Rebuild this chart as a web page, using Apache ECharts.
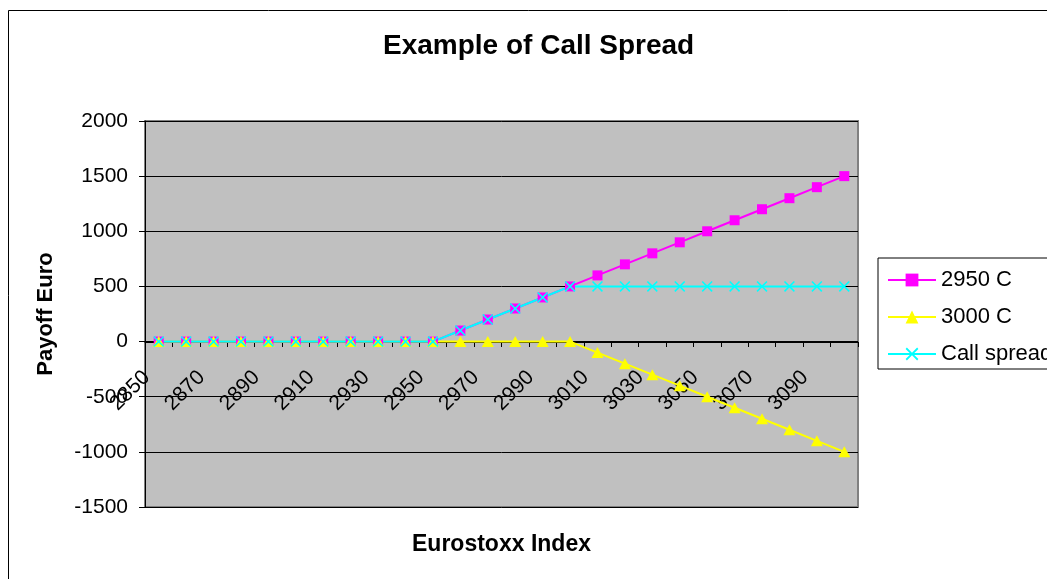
<!DOCTYPE html>
<html>
<head>
<meta charset="utf-8">
<style>
  html, body { margin: 0; padding: 0; background: #fff; }
  #chart { width: 1047px; height: 579px; }
</style>
<script src="https://cdn.jsdelivr.net/npm/echarts@6/dist/echarts.min.js"></script>
</head>
<body>
<div id="chart"></div>
<script>
const categories = ['2850','2860','2870','2880','2890','2900','2910','2920','2930','2940','2950','2960','2970','2980','2990','3000','3010','3020','3030','3040','3050','3060','3070','3080','3090','3100'];
const call2950 = [0,0,0,0,0,0,0,0,0,0,0,100,200,300,400,500,600,700,800,900,1000,1100,1200,1300,1400,1500];
const call3000 = [0,0,0,0,0,0,0,0,0,0,0,0,0,0,0,0,-100,-200,-300,-400,-500,-600,-700,-800,-900,-1000];
const callSpread = [0,0,0,0,0,0,0,0,0,0,0,100,200,300,400,500,500,500,500,500,500,500,500,500,500,500];
const yTicks = { min: -1500, max: 2000, interval: 500 };
const seriesNames = ['2950 C', '3000 C', 'Call spread'];

const FONT = 'Liberation Sans, Arial, sans-serif';
const xSymbol = 'path://M1,0L5,4L9,0L10,1L6,5L10,9L9,10L5,6L1,10L0,9L4,5L0,1Z';

const chart = echarts.init(document.getElementById('chart'), null, { renderer: 'canvas' });
chart.setOption({
  animation: false,
  backgroundColor: '#ffffff',
  graphic: [{
    type: 'rect', silent: true, z: -10,
    shape: { x: 8.5, y: 10.5, width: 1200, height: 700 },
    style: { fill: 'none', stroke: '#000', lineWidth: 1 }
  }],
  title: {
    text: 'Example of Call Spread',
    left: 383, top: 32, padding: 0,
    textStyle: { fontFamily: FONT, fontSize: 28, fontWeight: 'bold', color: '#000' }
  },
  legend: {
    orient: 'vertical',
    left: 878, top: 258,
    padding: [11, 60, 4, 9],
    itemWidth: 48, itemHeight: 16, itemGap: 15,
    borderColor: '#000', borderWidth: 1,
    backgroundColor: '#fff',
    textStyle: { fontFamily: FONT, fontSize: 22, color: '#000' },
    data: seriesNames
  },
  grid: {
    left: 145, right: 189, top: 121, bottom: 72,
    show: true, backgroundColor: '#C0C0C0', borderColor: '#808080', borderWidth: 2,
    outerBoundsMode: 'none', containLabel: false
  },
  xAxis: {
    type: 'category',
    data: categories,
    boundaryGap: true,
    offset: -165,
    name: 'Eurostoxx Index',
    nameLocation: 'middle',
    nameGap: 191,
    nameTextStyle: { fontFamily: FONT, fontSize: 23, fontWeight: 'bold', color: '#000' },
    axisLine: { onZero: false, lineStyle: { color: '#000', width: 1 } },
    axisTick: { show: true, interval: 0, length: 5, inside: false, lineStyle: { color: '#000' } },
    axisLabel: {
      interval: 1, rotate: 45, margin: 20, padding: [0, 17, 0, 0],
      fontFamily: FONT, fontSize: 21, color: '#000'
    },
    splitLine: { show: false }
  },
  yAxis: {
    type: 'value',
    min: yTicks.min, max: yTicks.max, interval: yTicks.interval,
    name: 'Payoff Euro',
    nameLocation: 'middle',
    nameRotate: 90,
    nameGap: 88,
    nameTextStyle: { fontFamily: FONT, fontSize: 22, fontWeight: 'bold', color: '#000' },
    axisLine: { show: true, lineStyle: { color: '#000', width: 1 } },
    axisTick: { show: true, length: 6, lineStyle: { color: '#000' } },
    axisLabel: { margin: 17, fontFamily: FONT, fontSize: 21, color: '#000', formatter: function (v) { return String(v); } },
    splitLine: { show: true, lineStyle: { color: '#000', width: 1 } }
  },
  series: [
    {
      name: seriesNames[0], type: 'line', data: call2950,
      symbol: 'rect', symbolSize: 10, showAllSymbol: true,
      lineStyle: { color: '#FF00FF', width: 2 },
      itemStyle: { color: '#FF00FF' },
      emphasis: { disabled: true }
    },
    {
      name: seriesNames[1], type: 'line', data: call3000,
      symbol: 'triangle', symbolSize: [12, 11], showAllSymbol: true,
      lineStyle: { color: '#FFFF00', width: 2 },
      itemStyle: { color: '#FFFF00' },
      emphasis: { disabled: true }
    },
    {
      name: seriesNames[2], type: 'line', data: callSpread,
      symbol: xSymbol, symbolSize: 11, showAllSymbol: true,
      lineStyle: { color: '#00FFFF', width: 2 },
      itemStyle: { color: '#00FFFF' },
      emphasis: { disabled: true }
    }
  ]
});
</script>
</body>
</html>
